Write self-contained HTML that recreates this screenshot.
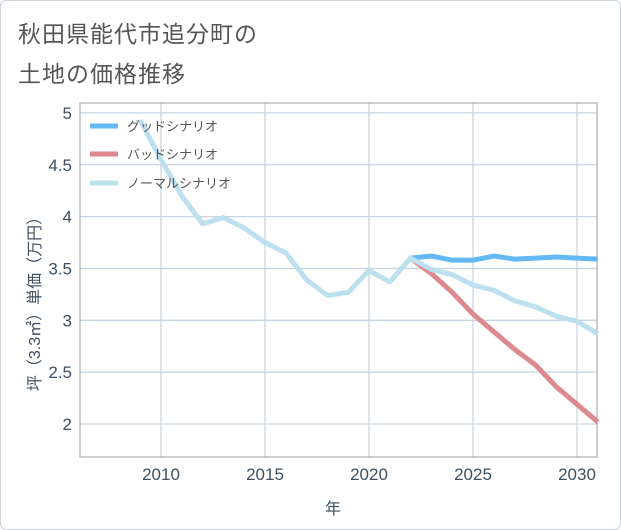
<!DOCTYPE html>
<html><head><meta charset="utf-8"><style>
body{margin:0;background:#fff;}
#card{position:absolute;left:0;top:0;width:619px;height:528px;border:1px solid #ccd3da;border-radius:6px;background:#fff;overflow:hidden;}
.t{position:absolute;left:17px;font:23px "Liberation Sans","Noto Sans CJK JP",sans-serif;color:#555;letter-spacing:1px;}
svg text{font-family:"Liberation Sans","Noto Sans CJK JP",sans-serif;}
</style></head><body>
<div id="card">
<div class="t" style="top:14px">秋田県能代市追分町の</div>
<div class="t" style="top:54px">土地の価格推移</div>
<svg id="s" width="621" height="530" style="position:absolute;left:-1px;top:-1px"></svg>
</div>
<script>
const years=[2009,2010,2011,2012,2013,2014,2015,2016,2017,2018,2019,2020,2021,2022,2023,2024,2025,2026,2027,2028,2029,2030,2031];
const normal=[4.93,4.55,4.2,3.93,3.99,3.89,3.75,3.65,3.39,3.24,3.27,3.48,3.37,3.6,3.49,3.44,3.34,3.29,3.19,3.13,3.04,2.99,2.87];
const futureYears=[2022,2023,2024,2025,2026,2027,2028,2029,2030,2031];
const good=[3.6,3.62,3.58,3.58,3.62,3.59,3.6,3.61,3.6,3.59];
const bad=[3.6,3.45,3.27,3.06,2.89,2.72,2.57,2.36,2.19,2.02];
const xTicks=[2010,2015,2020,2025,2030];
const yTicks=[2,2.5,3,3.5,4,4.5,5];
const yLabels=['2','2.5','3','3.5','4','4.5','5'];
const L=80,R=597,T=103,B=457;
const x=v=>161+(v-2010)*20.8;
const y=v=>424-(v-2)*103.7;
const s=document.getElementById('s');
const NS='http://www.w3.org/2000/svg';
function mk(t,a,p){const e=document.createElementNS(NS,t);for(const k in a)e.setAttribute(k,a[k]);(p||s).appendChild(e);return e;}
xTicks.forEach((v,i)=>{
const g=mk('line',{x1:x(v),x2:x(v),y1:T,y2:B,stroke:'#c9d6e2','stroke-width':1.3});


const t=mk('text',{x:x(v),y:480,'text-anchor':'middle','font-size':17,fill:'#3d4f63'});t.textContent=v;


});
yTicks.forEach((v,i)=>{
const g=mk('line',{x1:L,x2:R,y1:y(v),y2:y(v),stroke:'#c9d6e2','stroke-width':1.3});


const t=mk('text',{x:72,y:y(v)+6,'text-anchor':'end','font-size':17,fill:'#3d4f63'});t.textContent=yLabels[i];


});
const fr=mk('rect',{x:L,y:T,width:R-L,height:B-T,fill:'none',stroke:'#9aa0a6','stroke-width':1});


function line(xs,vs,c,n){const p=mk('polyline',{points:xs.map((v,i)=>x(v)+','+y(vs[i])).join(' '),fill:'none',stroke:c,'stroke-width':5,'stroke-linejoin':'round'});

}
line(futureYears,bad,'#dc8a90','bad-scenario-line');
line(futureYears,good,'#64b8f4','good-scenario-line');
line(years,normal,'#bde0ef','normal-scenario-line');
[['グッドシナリオ','#64b8f4',126],['バッドシナリオ','#dc8a90',154],['ノーマルシナリオ','#bde0ef',183]].forEach((d,i)=>{
const l=mk('line',{x1:90,x2:118,y1:d[2],y2:d[2],stroke:d[1],'stroke-width':5});


const t=mk('text',{x:127,y:d[2]+5,'font-size':13,fill:'#555'});t.textContent=d[0];


});
const xt=mk('text',{x:333,y:514,'text-anchor':'middle','font-size':16,fill:'#3d4f63'});xt.textContent='年';


const yt=mk('text',{x:0,y:0,'text-anchor':'middle','font-size':16,fill:'#3d4f63',transform:'translate(40,300) rotate(-90)'});yt.textContent='坪（3.3㎡）単価（万円）';


</script>
</body></html>
